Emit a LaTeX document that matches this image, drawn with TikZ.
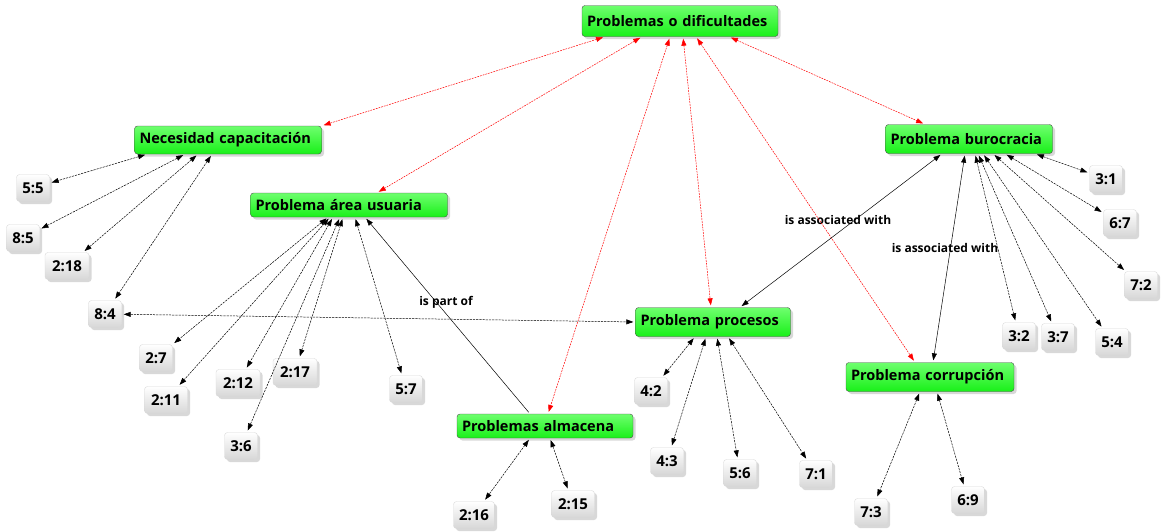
\documentclass[tikz,border=0pt]{standalone}
\usepackage{fontspec}
\setmainfont{Open Sans}
\usetikzlibrary{arrows.meta,shadows}
\definecolor{verde}{RGB}{25,240,25}
\definecolor{verdeclaro}{RGB}{110,255,110}
\definecolor{gris}{RGB}{215,215,215}
\begin{document}
\begin{tikzpicture}[x=1pt,y=-1pt,
  concepto/.style={draw=black!70, rounded corners=3pt, top color=verdeclaro, bottom color=verde,
    font=\bfseries\fontsize{14.5}{16}\selectfont, inner xsep=5pt, inner ysep=0pt, minimum height=29pt,
    text width=#1, align=left,
    drop shadow={shadow xshift=2.5pt, shadow yshift=-2.5pt, fill=black!30}},
  cita/.style={draw=black!15, rounded corners=3pt, top color=white, bottom color=gris,
    font=\bfseries\fontsize{15}{16}\selectfont, inner sep=0pt, minimum width=33pt, minimum height=27pt,
    drop shadow={shadow xshift=2.5pt, shadow yshift=-2.5pt, fill=black!30}},
  etiqueta/.style={font=\bfseries\fontsize{12}{14}\selectfont, inner sep=1pt},
  rel/.style={black, line width=0.5pt, dash pattern=on 2.2pt off 1pt,
    {Triangle[length=7pt,width=5pt]}-{Triangle[length=7pt,width=5pt]}, shorten <=2pt, shorten >=2pt},
  relroja/.style={red, line width=0.5pt, dash pattern=on 1.8pt off 1pt,
    {Triangle[length=7pt,width=5pt]}-{Triangle[length=7pt,width=5pt]}, shorten <=2pt, shorten >=2pt},
  asoc/.style={black, line width=0.5pt, shorten <=2pt, shorten >=2pt},
]
\useasboundingbox (0,0) rectangle (1168,531);

% conceptos
\node[concepto=186pt, minimum height=31pt] (prob) at (680,21) {Problemas o dificultades};
\node[concepto=177pt, minimum height=28pt] (nec) at (228,140) {Necesidad capacitación};
\node[concepto=187pt, minimum height=24pt] (area) at (349,205) {Problema área usuaria};
\node[concepto=157pt] (buro) at (969,139) {Problema burocracia};
\node[concepto=145pt] (proc) at (713,322) {Problema procesos};
\node[concepto=158pt] (corr) at (930,377) {Problema corrupción};
\node[concepto=166pt, minimum height=24pt] (alm) at (545,426) {Problemas almacena};

% citas
\node[cita] (c55) at (33,188) {5:5};
\node[cita] (c85) at (23,238) {8:5};
\node[cita, minimum width=44pt] (c218) at (67,266) {2:18};
\node[cita] (c84) at (105,314) {8:4};
\node[cita] (c27) at (156,358) {2:7};
\node[cita, minimum width=43pt] (c211) at (166,400) {2:11};
\node[cita, minimum width=44pt] (c212) at (238,383) {2:12};
\node[cita, minimum width=44pt] (c217) at (295,372) {2:17};
\node[cita] (c36) at (241,446) {3:6};
\node[cita] (c57) at (406,389) {5:7};
\node[cita] (c31) at (1106,179) {3:1};
\node[cita] (c67) at (1120,223) {6:7};
\node[cita] (c72) at (1141,285) {7:2};
\node[cita] (c32) at (1019,336) {3:2};
\node[cita] (c37) at (1058,337) {3:7};
\node[cita] (c54) at (1112,342) {5:4};
\node[cita] (c42) at (651,391) {4:2};
\node[cita] (c43) at (667,461) {4:3};
\node[cita] (c56) at (740,473) {5:6};
\node[cita] (c71) at (816,474) {7:1};
\node[cita] (c73) at (871,512) {7:3};
\node[cita] (c69) at (968,500) {6:9};
\node[cita, minimum width=41pt] (c216) at (474,515) {2:16};
\node[cita, minimum width=43pt] (c215) at (573,504) {2:15};

% etiquetas
\node[etiqueta] (parte) at (446,302) {is part of};
\node[etiqueta] (asoc1) at (838,220) {is associated with};
\node[etiqueta] (asoc2) at (945,248) {is associated with};

% relaciones rojas
\draw[relroja] ([xshift=-75pt]prob.south) -- (nec.north east);
\draw[relroja] ([xshift=-38pt]prob.south) -- ([xshift=28pt]area.north);
\draw[relroja] ([xshift=-10pt]prob.south) -- ([xshift=3pt]alm.north);
\draw[relroja] ([xshift=3pt]prob.south) -- ([xshift=-2pt]proc.north);
\draw[relroja] ([xshift=16pt]prob.south) -- ([xshift=-15pt]corr.north);
\draw[relroja] ([xshift=49pt]prob.south) -- ([xshift=-44pt]buro.north);

% necesidad capacitacion
\draw[rel] ([xshift=-81pt]nec.south) -- (c55);
\draw[rel] ([xshift=-43pt]nec.south) -- (c85);
\draw[rel] ([xshift=-30pt]nec.south) -- (c218);
\draw[rel] ([xshift=-16pt]nec.south) -- (c84);
\draw[rel] (c84) -- (proc.west);

% area usuaria
\draw[rel] ([xshift=-21pt]area.south) -- (c27);
\draw[rel] ([xshift=-19pt]area.south) -- (c211);
\draw[rel] ([xshift=-16pt]area.south) -- (c212);
\draw[rel] ([xshift=-9pt]area.south) -- (c36);
\draw[rel] ([xshift=-6pt]area.south) -- (c217);
\draw[rel] ([xshift=6pt]area.south) -- (c57);
\draw[asoc, {Triangle[length=7pt,width=5pt]}-] ([xshift=16pt]area.south) -- ([xshift=-15pt]alm.north);

% almacena
\draw[rel] ([xshift=-15pt]alm.south) -- (c216);
\draw[rel] ([xshift=5pt]alm.south) -- (c215);

% procesos
\draw[rel] ([xshift=-18pt]proc.south) -- (c42);
\draw[rel] ([xshift=-7pt]proc.south) -- (c43);
\draw[rel] ([xshift=4pt]proc.south) -- (c56);
\draw[rel] ([xshift=15pt]proc.south) -- (c71);
\draw[asoc, {Triangle[length=7pt,width=5pt]}-{Triangle[length=7pt,width=5pt]}] ([xshift=27pt]proc.north) -- ([xshift=-27pt]buro.south);

% burocracia
\draw[asoc, {Triangle[length=7pt,width=5pt]}-{Triangle[length=7pt,width=5pt]}] ([xshift=-4pt]buro.south) -- ([xshift=3pt]corr.north);
\draw[rel] ([xshift=66pt]buro.south) -- (c31);
\draw[rel] ([xshift=36pt]buro.south) -- (c67);
\draw[rel] ([xshift=24pt]buro.south) -- (c72);
\draw[rel] ([xshift=14pt]buro.south) -- (c54);
\draw[rel] ([xshift=9pt]buro.south) -- (c37);
\draw[rel] ([xshift=6pt]buro.south) -- (c32);

% corrupcion
\draw[rel] ([xshift=-10pt]corr.south) -- (c73);
\draw[rel] ([xshift=7pt]corr.south) -- (c69);
\end{tikzpicture}
\end{document}
